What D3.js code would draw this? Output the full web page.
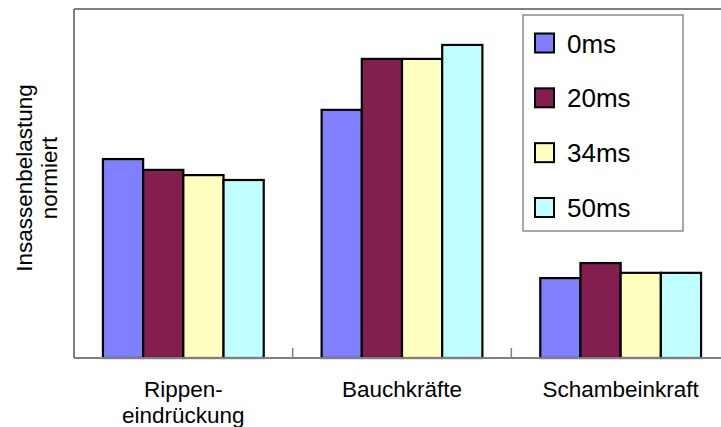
<!DOCTYPE html>
<html>
<head>
<meta charset="utf-8">
<script src="https://cdn.jsdelivr.net/npm/d3@7"></script>
<style>
  html, body { margin: 0; padding: 0; background: #fff; }
  svg { display: block; font-family: "Liberation Sans", Arial, sans-serif; }
</style>
</head>
<body>
<svg id="chart" width="721" height="427"></svg>
<script>
// Normalised occupant loads per body region and delay
const categories = [["Rippen-", "eindrückung"], ["Bauchkräfte"], ["Schambeinkraft"]];
const seriesNames = ["0ms", "20ms", "34ms", "50ms"];
const seriesColors = ["#8080ff", "#821f4e", "#ffffc0", "#c0ffff"];
const values0ms  = [0.570, 0.711, 0.229];
const values20ms = [0.539, 0.857, 0.272];
const values34ms = [0.524, 0.857, 0.244];
const values50ms = [0.510, 0.897, 0.244];
const yTitle = ["Insassenbelastung", "normiert"];

const series = [values0ms, values20ms, values34ms, values50ms];
const catKeys = categories.map((c, i) => i);

const svg = d3.select("#chart");
const plotLeft = 74, plotRight = 730, plotTop = 9, plotBottom = 358;

const x = d3.scaleBand().domain(catKeys).range([plotLeft, plotRight]).paddingInner(0).paddingOuter(0);
const xs = d3.scaleBand().domain(seriesNames).range([0, x.bandwidth()]).paddingInner(0).paddingOuter(0.72);
const y = d3.scaleLinear().domain([0, 1]).range([plotBottom, plotTop]);

// Frame: left axis and top line
const frame = svg.append("g").attr("stroke", "#7f7f7f").attr("stroke-width", 2).attr("fill", "none");
frame.append("line").attr("x1", plotLeft).attr("x2", plotLeft).attr("y1", plotTop).attr("y2", plotBottom);
frame.append("line").attr("x1", plotLeft).attr("x2", plotRight).attr("y1", plotTop).attr("y2", plotTop);

// Bars
const groups = svg.append("g").selectAll("g")
  .data(catKeys).join("g")
  .attr("transform", d => `translate(${x(d)},0)`);

groups.selectAll("rect")
  .data(i => seriesNames.map((s, k) => ({ s, k, v: series[k][i] })))
  .join("rect")
  .attr("x", d => xs(d.s))
  .attr("y", d => y(d.v))
  .attr("width", xs.bandwidth())
  .attr("height", d => y(0) - y(d.v))
  .attr("fill", d => seriesColors[d.k])
  .attr("stroke", "#000")
  .attr("stroke-width", 2.2);

// Category axis with inward ticks at group boundaries
const xAxis = svg.append("g").attr("transform", `translate(0,${plotBottom})`);
xAxis.append("line").attr("x1", plotLeft).attr("x2", plotRight).attr("y1", 0).attr("y2", 0)
  .attr("stroke", "#7f7f7f").attr("stroke-width", 2);
xAxis.selectAll("line.tick")
  .data(catKeys.slice(1)).join("line").attr("class", "tick")
  .attr("x1", d => x(d)).attr("x2", d => x(d))
  .attr("y1", 0).attr("y2", -10)
  .attr("stroke", "#7f7f7f").attr("stroke-width", 1.5);

const labels = svg.append("g").selectAll("text")
  .data(catKeys).join("text")
  .attr("x", d => x(d) + x.bandwidth() / 2)
  .attr("y", 397)
  .attr("text-anchor", "middle")
  .attr("font-size", 22.5)
  .attr("fill", "#000");
labels.selectAll("tspan")
  .data(d => categories[d].map((t, j) => ({ t, j, d })))
  .join("tspan")
  .attr("x", d => x(d.d) + x.bandwidth() / 2)
  .attr("dy", d => d.j === 0 ? 0 : 26)
  .text(d => d.t);

// Y axis title (two rotated lines)
svg.append("g").selectAll("text")
  .data(yTitle).join("text")
  .attr("transform", (d, i) => `translate(${32 + i * 25},178) rotate(-90)`)
  .attr("text-anchor", "middle")
  .attr("font-size", 22.5)
  .attr("fill", "#000")
  .text(d => d);

// Legend
const legend = svg.append("g");
legend.append("rect")
  .attr("x", 523).attr("y", 15).attr("width", 160).attr("height", 216)
  .attr("fill", "#fff").attr("stroke", "#8c8c8c").attr("stroke-width", 1.5);
const rowY = d3.scalePoint().domain(seriesNames).range([43, 207.5]);
const items = legend.selectAll("g.item").data(seriesNames).join("g").attr("class", "item")
  .attr("transform", d => `translate(0,${rowY(d)})`);
items.append("rect")
  .attr("x", 535).attr("y", -9.5).attr("width", 19).attr("height", 19)
  .attr("fill", (d, i) => seriesColors[i])
  .attr("stroke", "#000").attr("stroke-width", 2);
items.append("text")
  .attr("x", 567).attr("y", 9.5)
  .attr("font-size", 26)
  .attr("fill", "#000")
  .text(d => d);
</script>
</body>
</html>
